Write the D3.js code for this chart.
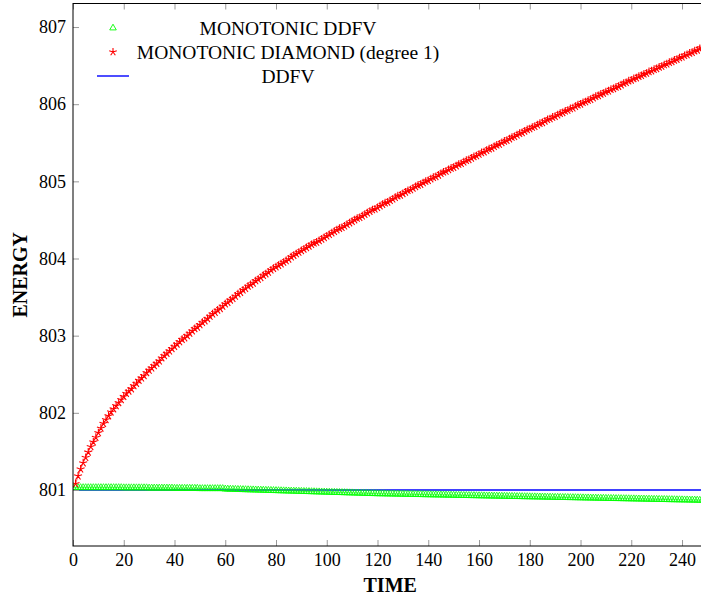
<!DOCTYPE html>
<html>
<head>
<meta charset="utf-8">
<script src="https://cdn.jsdelivr.net/npm/d3@7"></script>
<style>
  body { margin: 0; background: #fff; }
  text { font-family: "Liberation Serif", "Times New Roman", serif; fill: #000; }
</style>
</head>
<body>
<svg width="701" height="601"></svg>
<script>
// MONOTONIC DDFV, one value per time step, starting at t = 0
var monoDdfvStart = 0;
var monoDdfv = [
  801.03, 801.03, 801.03, 801.03, 801.03, 801.03, 801.03, 801.03, 801.03, 801.03,
  801.03, 801.03, 801.03, 801.03, 801.03, 801.03, 801.03, 801.03, 801.03, 801.03,
  801.028, 801.028, 801.028, 801.028, 801.028, 801.028, 801.028, 801.028, 801.028, 801.028,
  801.025, 801.025, 801.025, 801.025, 801.025, 801.025, 801.025, 801.025, 801.025, 801.025,
  801.022, 801.022, 801.022, 801.022, 801.022, 801.022, 801.022, 801.022, 801.022, 801.022,
  801.018, 801.018, 801.018, 801.018, 801.018, 801.018, 801.018, 801.018, 801.018, 801.018,
  801.012, 801.011, 801.010, 801.009, 801.008, 801.007, 801.006, 801.005, 801.004, 801.003,
  801.002, 801.001, 801.000, 800.999, 800.998, 800.997, 800.996, 800.995, 800.994, 800.993,
  800.992, 800.991, 800.990, 800.989, 800.988, 800.987, 800.986, 800.985, 800.984, 800.983,
  800.982, 800.981, 800.980, 800.979, 800.978, 800.977, 800.976, 800.975, 800.974, 800.973,
  800.972, 800.971, 800.970, 800.969, 800.968, 800.967, 800.966, 800.965, 800.964, 800.963,
  800.962, 800.961, 800.960, 800.959, 800.958, 800.957, 800.956, 800.955, 800.954, 800.953,
  800.952, 800.951, 800.951, 800.950, 800.949, 800.949, 800.948, 800.947, 800.947, 800.946,
  800.945, 800.945, 800.944, 800.943, 800.943, 800.942, 800.941, 800.941, 800.940, 800.939,
  800.939, 800.938, 800.937, 800.937, 800.936, 800.935, 800.935, 800.934, 800.933, 800.933,
  800.932, 800.931, 800.931, 800.930, 800.929, 800.929, 800.928, 800.927, 800.927, 800.926,
  800.925, 800.925, 800.924, 800.923, 800.923, 800.922, 800.921, 800.921, 800.920, 800.919,
  800.919, 800.918, 800.917, 800.917, 800.916, 800.915, 800.915, 800.914, 800.913, 800.913,
  800.912, 800.911, 800.911, 800.910, 800.909, 800.909, 800.908, 800.907, 800.907, 800.906,
  800.905, 800.905, 800.904, 800.903, 800.903, 800.902, 800.901, 800.901, 800.900, 800.899,
  800.899, 800.898, 800.897, 800.897, 800.896, 800.895, 800.895, 800.894, 800.893, 800.893,
  800.892, 800.891, 800.891, 800.890, 800.889, 800.889, 800.888, 800.887, 800.887, 800.886,
  800.885, 800.885, 800.884, 800.883, 800.883, 800.882, 800.881, 800.881, 800.880, 800.879,
  800.879, 800.878, 800.877, 800.877, 800.876, 800.875, 800.875, 800.874, 800.873, 800.873,
  800.872, 800.871, 800.871, 800.870, 800.869, 800.869, 800.868, 800.867, 800.867, 800.866,
  800.865
];

// MONOTONIC DIAMOND (degree 1), one value per time step, starting at t = 1
var monoDiamondStart = 1;
var monoDiamond = [
  801.08, 801.18, 801.27, 801.35, 801.42, 801.49, 801.56, 801.62, 801.68, 801.74,
  801.80, 801.86, 801.91, 801.96, 802.01, 802.05, 802.09, 802.13, 802.17, 802.21,
  802.25, 802.28, 802.31, 802.35, 802.38, 802.42, 802.45, 802.48, 802.52, 802.55,
  802.58, 802.61, 802.64, 802.67, 802.71, 802.74, 802.77, 802.80, 802.83, 802.86,
  802.89, 802.92, 802.95, 802.97, 803.00, 803.03, 803.06, 803.09, 803.11, 803.14,
  803.17, 803.19, 803.22, 803.25, 803.28, 803.30, 803.33, 803.35, 803.38, 803.41,
  803.43, 803.46, 803.48, 803.51, 803.54, 803.56, 803.59, 803.61, 803.64, 803.66,
  803.68, 803.71, 803.73, 803.75, 803.78, 803.80, 803.82, 803.85, 803.87, 803.89,
  803.91, 803.93, 803.95, 803.97, 803.99, 804.02, 804.04, 804.06, 804.08, 804.10,
  804.12, 804.14, 804.16, 804.18, 804.20, 804.21, 804.23, 804.25, 804.27, 804.29,
  804.31, 804.33, 804.35, 804.37, 804.39, 804.40, 804.42, 804.44, 804.46, 804.48,
  804.50, 804.52, 804.53, 804.55, 804.57, 804.59, 804.61, 804.63, 804.64, 804.66,
  804.68, 804.70, 804.72, 804.73, 804.75, 804.77, 804.79, 804.81, 804.82, 804.84,
  804.86, 804.88, 804.89, 804.91, 804.93, 804.95, 804.96, 804.98, 805.00, 805.01,
  805.03, 805.05, 805.06, 805.08, 805.10, 805.12, 805.13, 805.15, 805.17, 805.18,
  805.20, 805.22, 805.23, 805.25, 805.27, 805.28, 805.30, 805.32, 805.33, 805.35,
  805.37, 805.38, 805.40, 805.42, 805.43, 805.45, 805.47, 805.48, 805.50, 805.52,
  805.53, 805.55, 805.57, 805.58, 805.60, 805.62, 805.63, 805.65, 805.67, 805.68,
  805.70, 805.71, 805.73, 805.75, 805.76, 805.78, 805.80, 805.81, 805.83, 805.84,
  805.86, 805.88, 805.89, 805.91, 805.92, 805.94, 805.95, 805.97, 805.99, 806.00,
  806.02, 806.03, 806.05, 806.06, 806.08, 806.10, 806.11, 806.13, 806.14, 806.16,
  806.17, 806.19, 806.20, 806.22, 806.23, 806.25, 806.27, 806.28, 806.30, 806.31,
  806.33, 806.34, 806.36, 806.37, 806.39, 806.40, 806.42, 806.43, 806.45, 806.46,
  806.48, 806.49, 806.51, 806.52, 806.54, 806.55, 806.57, 806.58, 806.60, 806.61,
  806.63, 806.64, 806.66, 806.67, 806.69, 806.70, 806.72, 806.73, 806.75, 806.76
];

// DDFV reference line
var ddfvTime = [0, 250];
var ddfvEnergy = [801.0, 801.0];

var xTicks = [0, 20, 40, 60, 80, 100, 120, 140, 160, 180, 200, 220, 240];
var yTicks = [801, 802, 803, 804, 805, 806, 807];
var seriesNames = ["MONOTONIC DDFV", "MONOTONIC DIAMOND (degree 1)", "DDFV"];

var cMono = "#00ff00";
var cDiamond = "#ff0000";
var cDdfv = "#0000ff";
var tickColor = "#999";

// plot box (window.top is read-only, so own names here)
var pLeft = 73, pRight = 707.4, pTop = 3.5, pBottom = 546;

var svg = d3.select("svg");

var x = d3.scaleLinear().domain([0, 250]).range([pLeft, pRight]);
var y = d3.scaleLinear().domain([800.274, 807.305]).range([pBottom, pTop]);

function toPoints(start, values) {
  return values.map(function(v, i) { return { t: start + i, e: v }; });
}
var monoPts = toPoints(monoDdfvStart, monoDdfv);
var diamondPts = toPoints(monoDiamondStart, monoDiamond);
var ddfvPts = ddfvTime.map(function(t, i) { return { t: t, e: ddfvEnergy[i] }; });

// marker shapes
function trianglePath(r) {
  return "M0," + (-r) + "L" + (r * 0.866) + "," + (r * 0.5) + "L" + (-r * 0.866) + "," + (r * 0.5) + "Z";
}
function starPath(r) {
  var p = "";
  for (var k = 0; k < 5; k++) {
    var a = (-90 + 72 * k) * Math.PI / 180;
    p += "M0,0L" + (r * Math.cos(a)).toFixed(2) + "," + (r * Math.sin(a)).toFixed(2);
  }
  return p;
}

svg.append("defs").append("clipPath").attr("id", "plotClip")
  .append("rect")
  .attr("x", pLeft).attr("y", pTop)
  .attr("width", pRight - pLeft).attr("height", pBottom - pTop);

var plot = svg.append("g").attr("clip-path", "url(#plotClip)");

var line = d3.line()
  .x(function(d) { return x(d.t); })
  .y(function(d) { return y(d.e); });

// DDFV line
plot.append("path")
  .datum(ddfvPts)
  .attr("d", line)
  .attr("fill", "none")
  .attr("stroke", cDdfv)
  .attr("stroke-width", 1.4);

// monotonic DDFV: triangles
plot.append("path")
  .datum(monoPts)
  .attr("d", line)
  .attr("fill", "none")
  .attr("stroke", cMono)
  .attr("stroke-width", 0.6);

plot.append("g").selectAll("path")
  .data(monoPts)
  .enter().append("path")
  .attr("d", trianglePath(4))
  .attr("transform", function(d) { return "translate(" + x(d.t) + "," + y(d.e) + ")"; })
  .attr("fill", "none")
  .attr("stroke", cMono)
  .attr("stroke-width", 0.8);

// monotonic diamond: stars
plot.append("path")
  .datum(diamondPts)
  .attr("d", line)
  .attr("fill", "none")
  .attr("stroke", cDiamond)
  .attr("stroke-width", 0.6);

plot.append("g").selectAll("path")
  .data(diamondPts)
  .enter().append("path")
  .attr("d", starPath(4.2))
  .attr("transform", function(d) { return "translate(" + x(d.t) + "," + y(d.e) + ")"; })
  .attr("fill", "none")
  .attr("stroke", cDiamond)
  .attr("stroke-width", 1.1);

// axes, ticks pointing inward on all four sides
function styleAxis(g) {
  g.select(".domain").remove();
  g.selectAll(".tick line").attr("stroke", tickColor).attr("stroke-width", 1);
  g.selectAll(".tick text")
    .style("font-family", "'Liberation Serif', serif")
    .style("font-size", "18px")
    .attr("fill", "#000");
}

svg.append("g")
  .attr("transform", "translate(0," + pBottom + ")")
  .call(d3.axisBottom(x).tickValues(xTicks).tickSize(-6).tickPadding(7))
  .call(styleAxis);

svg.append("g")
  .attr("transform", "translate(0," + pTop + ")")
  .call(d3.axisTop(x).tickValues(xTicks).tickSize(-6).tickFormat(""))
  .call(styleAxis);

svg.append("g")
  .attr("transform", "translate(" + pLeft + ",0)")
  .call(d3.axisLeft(y).tickValues(yTicks).tickSize(-6).tickPadding(7).tickFormat(d3.format("d")))
  .call(styleAxis);

svg.append("g")
  .attr("transform", "translate(" + pRight + ",0)")
  .call(d3.axisRight(y).tickValues(yTicks).tickSize(-6).tickFormat(""))
  .call(styleAxis);

// frame
svg.append("rect")
  .attr("x", pLeft).attr("y", pTop)
  .attr("width", pRight - pLeft).attr("height", pBottom - pTop)
  .attr("fill", "none")
  .attr("stroke", "#000")
  .attr("stroke-width", 1);

// axis labels
svg.append("text")
  .attr("x", (pLeft + pRight) / 2)
  .attr("y", 592)
  .attr("text-anchor", "middle")
  .style("font-weight", "bold")
  .style("font-size", "20px")
  .text("TIME");

svg.append("text")
  .attr("transform", "translate(27," + ((pTop + pBottom) / 2) + ") rotate(-90)")
  .attr("text-anchor", "middle")
  .style("font-weight", "bold")
  .style("font-size", "20px")
  .text("ENERGY");

// legend
var legend = svg.append("g");
var rowY = [28, 52, 76];

legend.append("path")
  .attr("d", trianglePath(3.8))
  .attr("transform", "translate(113," + rowY[0] + ")")
  .attr("fill", "none").attr("stroke", cMono).attr("stroke-width", 0.9);

legend.append("path")
  .attr("d", starPath(4))
  .attr("transform", "translate(113," + rowY[1] + ")")
  .attr("fill", "none").attr("stroke", cDiamond).attr("stroke-width", 1.1);

legend.append("line")
  .attr("x1", 97).attr("x2", 129)
  .attr("y1", rowY[2]).attr("y2", rowY[2])
  .attr("stroke", cDdfv).attr("stroke-width", 1.4);

legend.selectAll("text.lab")
  .data(seriesNames)
  .enter().append("text")
  .attr("class", "lab")
  .attr("x", 288)
  .attr("y", function(d, i) { return rowY[i] + 6.5; })
  .attr("text-anchor", "middle")
  .style("font-size", "19.5px")
  .text(function(d) { return d; });
</script>
</body>
</html>
